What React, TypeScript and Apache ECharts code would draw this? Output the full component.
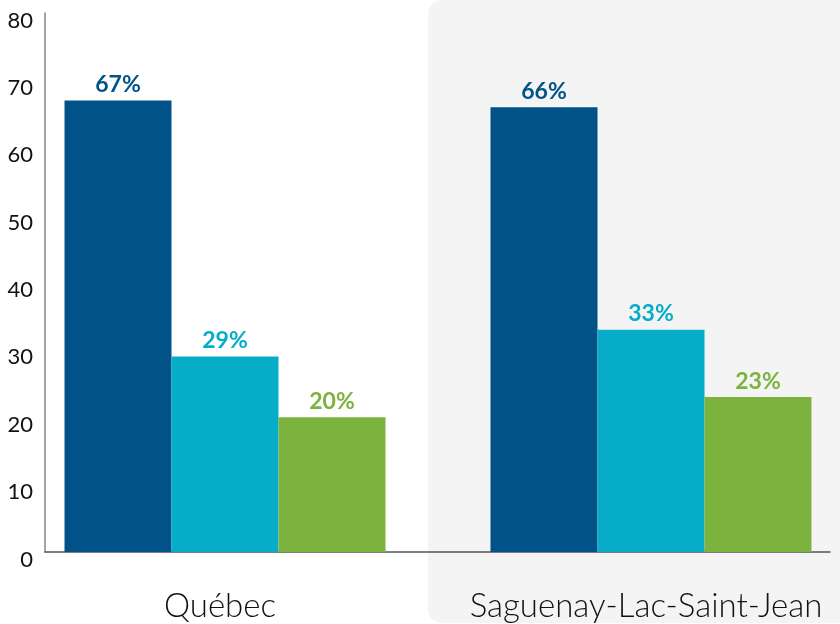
import React, { useEffect, useRef } from "react";
import * as echarts from "echarts";

const categories = ["Québec", "Saguenay-Lac-Saint-Jean"];
const serie1 = [67, 66];
const serie2 = [29, 33];
const serie3 = [20, 23];
const yTicks = { min: 0, max: 80, interval: 10 };
const colors = ["#005288", "#07acc8", "#7bb33e"];

const CHART_W = 880;

export default function App() {
  const ref = useRef<HTMLDivElement>(null);
  useEffect(() => {
    if (!ref.current) return;
    const chart = echarts.init(ref.current, undefined, { renderer: "svg" });
    const mkSeries = (name: string, data: number[], color: string) => ({
      name,
      type: "bar",
      xAxisIndex: 1,
      yAxisIndex: 1,
      data,
      barWidth: 107,
      barGap: "0%",
      itemStyle: { color },
      label: {
        show: true,
        position: "top",
        distance: 6,
        formatter: "{c}%",
        color,
        fontFamily: "Lato",
        fontWeight: "bold",
        fontSize: 23,
      },
    });
    chart.setOption({
      animation: false,
      graphic: [
        {
          type: "rect",
          z: -10,
          shape: { x: 428, y: 0, width: 470, height: 623, r: [14, 0, 0, 14] },
          style: { fill: "#f4f4f4" },
          silent: true,
        },
      ],
      grid: [
        { left: 45, right: CHART_W - 830, top: 13, bottom: 72 },
        { left: 12, right: CHART_W - 864, top: 13, bottom: 72 },
      ],
      xAxis: [
        {
          type: "category",
          gridIndex: 0,
          data: categories,
          axisLine: { show: true, lineStyle: { color: "#555", width: 1.5 } },
          axisTick: { show: false },
          axisLabel: { show: false },
        },
        {
          type: "category",
          gridIndex: 1,
          data: categories,
          axisLine: { show: false },
          axisTick: { show: false },
          axisLabel: {
            interval: 0,
            margin: 38,
            fontFamily: "Lato",
            fontSize: 33,
            lineHeight: 28,
            fontWeight: 300,
            color: "#111",
            padding: [0, 10, 0, 0],
          },
        },
      ],
      yAxis: [
        {
          type: "value",
          gridIndex: 0,
          min: yTicks.min,
          max: yTicks.max,
          interval: yTicks.interval,
          axisLine: { show: true, lineStyle: { color: "#888", width: 1.5 } },
          axisTick: { show: false },
          splitLine: { show: false },
          axisLabel: {
            margin: 12,
            fontFamily: "Lato",
            fontSize: 22,
            color: "#111",
            verticalAlign: "top",
            lineHeight: 12,
          },
        },
        {
          type: "value",
          gridIndex: 1,
          min: yTicks.min,
          max: yTicks.max,
          interval: yTicks.interval,
          show: false,
        },
      ],
      series: [
        mkSeries("Série 1", serie1, colors[0]),
        mkSeries("Série 2", serie2, colors[1]),
        mkSeries("Série 3", serie3, colors[2]),
      ],
    });
    return () => chart.dispose();
  }, []);
  return (
    <div
      style={{
        position: "fixed",
        left: 0,
        top: 0,
        width: 840,
        height: 624,
        overflow: "hidden",
      }}
    >
      <div ref={ref} style={{ width: CHART_W, height: 624 }} />
    </div>
  );
}
